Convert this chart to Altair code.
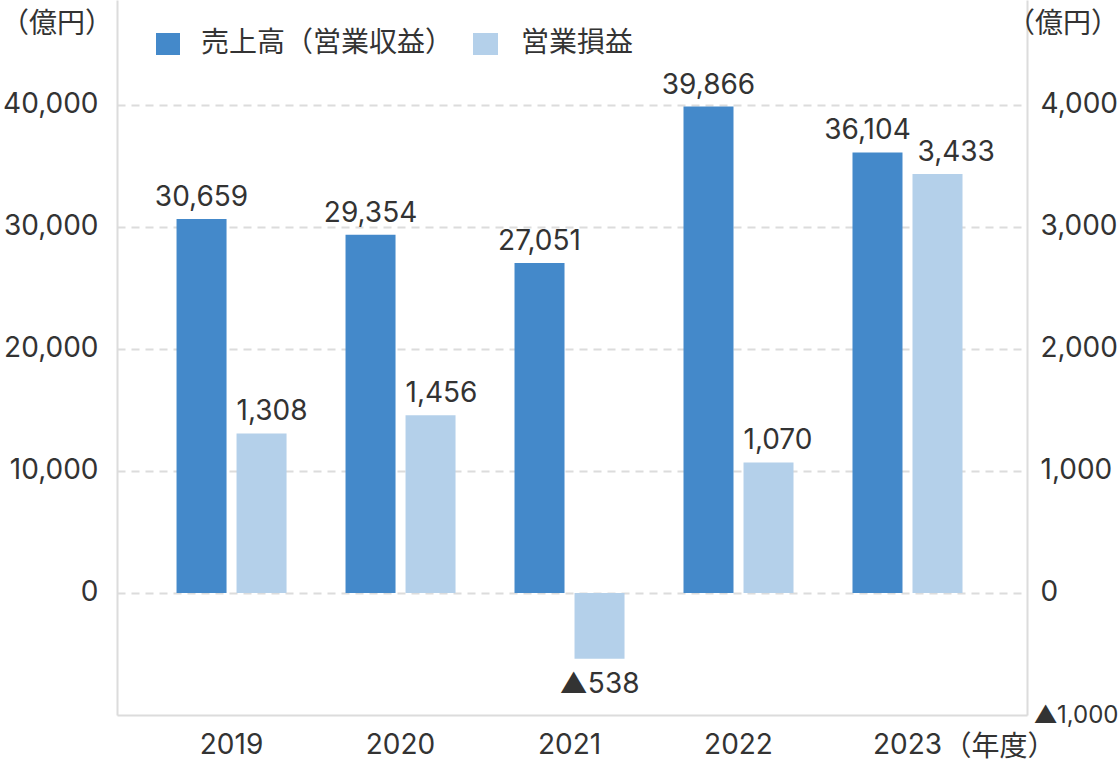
import altair as alt
import pandas as pd

# ---- data ----
years = ["2019", "2020", "2021", "2022", "2023"]
sales = [30659, 29354, 27051, 39866, 36104]          # 売上高（営業収益）, left axis
op_income = [1308, 1456, -538, 1070, 3433]           # 営業損益, right axis
series_names = ["売上高（営業収益）", "営業損益"]
left_ticks = [0, 10000, 20000, 30000, 40000]
right_ticks = [-1000, 0, 1000, 2000, 3000, 4000]


def fmt(v):
    return ("▲" if v < 0 else "") + f"{abs(v):,}"


sales_df = pd.DataFrame({"year": years, "series": series_names[0], "value": sales,
                         "label": [fmt(v) for v in sales]})
op_df = pd.DataFrame({"year": years, "series": series_names[1], "value": op_income,
                      "label": [fmt(v) for v in op_income]})
one = pd.DataFrame({"year": ["2023"]})

FONT = "Inter, 'Noto Sans CJK JP'"
JFONT = "Noto Sans CJK JP"
DARK = "#4489CA"
LIGHT = "#B4D0EA"
TEXT = "#333333"
LINE = "#dcdcdc"
FS = 28

x_axis = alt.Axis(title=None, labelAngle=0, ticks=False, labelPadding=16,
                  domainColor=LINE, domainWidth=2, labelFontSize=FS,
                  labelFont=FONT, labelColor=TEXT)
x_scale = alt.Scale(type="band", paddingInner=0.349, paddingOuter=0.367, align=0.48)
x_enc = alt.X("year:N", scale=x_scale, axis=x_axis, sort=years)
xo_enc = alt.XOffset("series:N", scale=alt.Scale(domain=series_names,
                                                 paddingInner=0.1667, paddingOuter=0))

left_scale = alt.Scale(domain=[-10000, 48600], nice=False, zero=False)
right_scale = alt.Scale(domain=[-1000, 4860], nice=False, zero=False)

left_axis = alt.Axis(title=None, values=left_ticks, grid=True,
                     labelExpr="format(datum.value, ',')", labelFontSize=FS,
                     labelFont=FONT, labelColor=TEXT,
                     gridDash=[8, 6], gridColor=LINE, gridWidth=2, ticks=False,
                     labelPadding=19, domainColor=LINE, domainWidth=2)
right_axis = alt.Axis(title=None, orient="right", values=right_ticks, grid=False,
                      ticks=False, domainColor=LINE, domainWidth=2,
                      labelFont=FONT, labelColor=TEXT,
                      labelPadding={"condition": {"test": "datum.value < 0", "value": 6}, "value": 13},
                      labelFontSize={"condition": {"test": "datum.value < 0", "value": 24}, "value": FS},
                      labelExpr="datum.value < 0 ? '▲' + format(-datum.value, ',') : format(datum.value, ',')")

yl = alt.Y("value:Q", scale=left_scale, axis=left_axis)
yr = alt.Y("value:Q", scale=right_scale, axis=right_axis)

# left (sales) layers
sales_bar = alt.Chart(sales_df).mark_bar(color=DARK).encode(x=x_enc, xOffset=xo_enc, y=yl)
sales_txt = alt.Chart(sales_df).transform_filter("datum.year != '2023'").mark_text(
    font=FONT, fontSize=FS, color=TEXT, baseline="alphabetic", dy=-13).encode(
    x=x_enc, xOffset=xo_enc, y=yl, text="label:N")
sales_txt_last = alt.Chart(sales_df).transform_filter("datum.year == '2023'").mark_text(
    font=FONT, fontSize=FS, color=TEXT, baseline="alphabetic", dy=-13, dx=-10).encode(
    x=x_enc, xOffset=xo_enc, y=yl, text="label:N")
left_layer = alt.layer(sales_bar, sales_txt, sales_txt_last)

# right (operating income) layers
op_bar = alt.Chart(op_df).mark_bar(color=LIGHT).encode(x=x_enc, xOffset=xo_enc, y=yr)
op_txt_pos = alt.Chart(op_df).transform_filter(
    "datum.value >= 0 && datum.year != '2023'").mark_text(
    font=FONT, fontSize=FS, color=TEXT, baseline="alphabetic", align="left",
    dx=-25, dy=-13).encode(x=x_enc, xOffset=xo_enc, y=yr, text="label:N")
op_txt_last = alt.Chart(op_df).transform_filter("datum.year == '2023'").mark_text(
    font=FONT, fontSize=FS, color=TEXT, baseline="alphabetic", align="left",
    dx=-20, dy=-13).encode(x=x_enc, xOffset=xo_enc, y=yr, text="label:N")
op_txt_neg = alt.Chart(op_df).transform_filter("datum.value < 0").mark_text(
    font=FONT, fontSize=FS, color=TEXT, baseline="alphabetic", dy=34).encode(
    x=x_enc, xOffset=xo_enc, y=yr, text="label:N")
right_layer = alt.layer(op_bar, op_txt_pos, op_txt_last, op_txt_neg)

# fiscal-year suffix next to 2023
nendo = alt.Chart(one).mark_text(font=JFONT, fontSize=28, color=TEXT, align="left",
                                 baseline="middle", dx=36).encode(
    x=x_enc, y=alt.value(748), text=alt.value("（年度）"))

# legend
leg_df = pd.DataFrame({"k": [0]})
leg1_sq = alt.Chart(leg_df).mark_rect(color=DARK).encode(
    x=alt.value(39), x2=alt.value(63), y=alt.value(33), y2=alt.value(55))
leg1_tx = alt.Chart(leg_df).mark_text(font=JFONT, fontSize=28, color=TEXT, align="left",
                                      baseline="middle").encode(
    x=alt.value(84), y=alt.value(44), text=alt.value(series_names[0]))
leg2_sq = alt.Chart(leg_df).mark_rect(color=LIGHT).encode(
    x=alt.value(356), x2=alt.value(381), y=alt.value(33), y2=alt.value(55))
leg2_tx = alt.Chart(leg_df).mark_text(font=JFONT, fontSize=28, color=TEXT, align="left",
                                      baseline="middle").encode(
    x=alt.value(404), y=alt.value(44), text=alt.value(series_names[1]))

# unit labels
unit_l = alt.Chart(leg_df).mark_text(font=JFONT, fontSize=28, color=TEXT, align="left",
                                     baseline="middle").encode(
    x=alt.value(-116), y=alt.value(25), text=alt.value("（億円）"))
unit_r = alt.Chart(leg_df).mark_text(font=JFONT, fontSize=28, color=TEXT, align="right",
                                     baseline="middle").encode(
    x=alt.value(1002), y=alt.value(25), text=alt.value("（億円）"))

chart = alt.layer(
    left_layer, right_layer, nendo, leg1_sq, leg1_tx, leg2_sq, leg2_tx, unit_l, unit_r
).resolve_scale(y="independent").properties(
    width=910, height=715,
    padding={"left": 117, "top": 0, "right": 93, "bottom": 65},
    autosize=alt.AutoSizeParams(type="none"),
).configure_view(stroke=None).configure_axis(
    labelFont=FONT, labelColor=TEXT
)

chart.save("out.html", embed_options={"renderer": "svg", "actions": False})
